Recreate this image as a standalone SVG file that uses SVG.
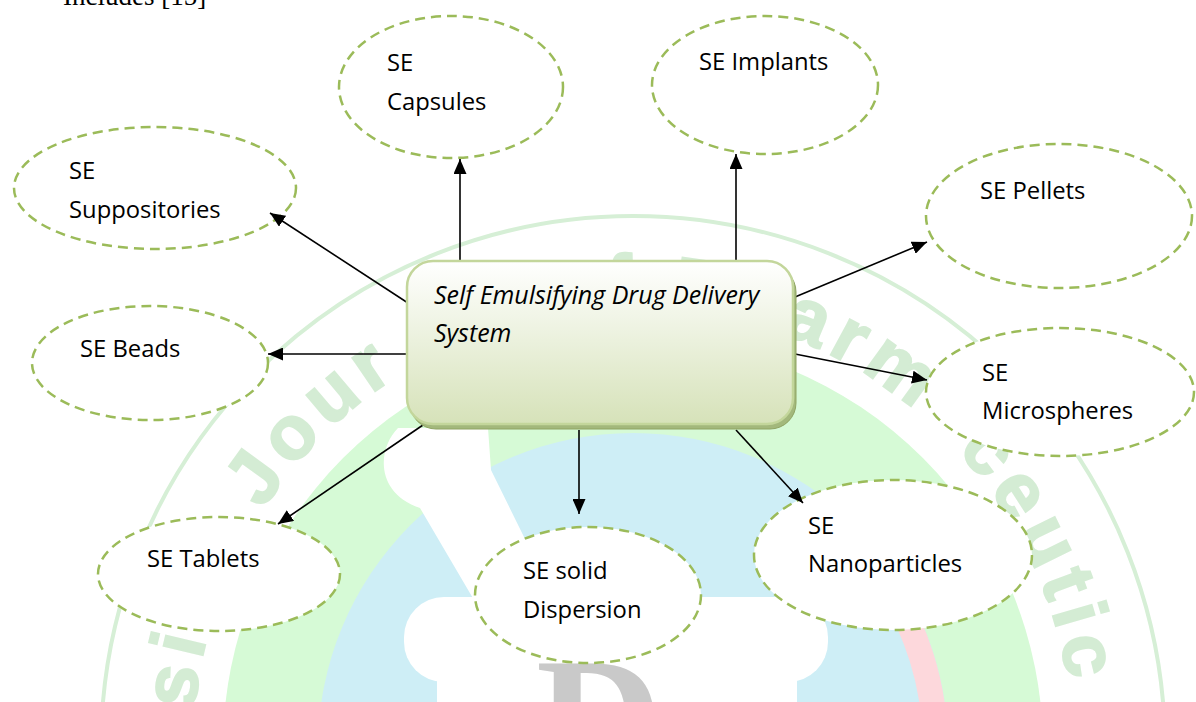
<svg xmlns="http://www.w3.org/2000/svg" width="1196" height="702" viewBox="0 0 1196 702">
<defs>
<style>
.node{fill:#ffffff;stroke:#9bbb59;stroke-width:2.5;stroke-dasharray:10 6}
.lbl{font-family:"Open Sans","Noto Sans","Liberation Sans",sans-serif;font-size:23.8px;fill:#000}
.title{font-family:"Open Sans","Noto Sans","Liberation Sans",sans-serif;font-size:25px;font-style:italic;fill:#000}
.wm{font-family:"Liberation Sans",Arial,sans-serif;font-weight:bold;font-size:76px;letter-spacing:8px;fill:#d4ecd4;stroke:#d4ecd4;stroke-width:2}
.conn{stroke:#000;stroke-width:1.6;fill:none;marker-end:url(#ah)}
</style>
<linearGradient id="boxg" x1="0" y1="0" x2="0" y2="1">
<stop offset="0" stop-color="#ffffff"/>
<stop offset="1" stop-color="#d6e2b9"/>
</linearGradient>
<marker id="ah" markerWidth="15" markerHeight="13" refX="15" refY="6.5" orient="auto" markerUnits="userSpaceOnUse">
<path d="M0,0 L15,6.5 L0,13 Z" fill="#000"/>
</marker>
<path id="wmpath" d="M 199.7 824.4 A 440 440 0 1 1 1066.3 824.4"/>
</defs>

<g id="watermark">
<circle cx="633" cy="748" r="410" fill="#d6fad6"/>
<circle cx="633" cy="748" r="315" fill="#ceeef6"/>
<path d="M 855.7 525.3 A 315 315 0 0 1 943.2 802.7 L 918.6 798.4 A 290 290 0 0 0 838.1 543.0 Z" fill="#fdd8dc"/>
<path d="M 398 428 C 378 448 374 492 420 508 L 474 600 L 545 600 L 524 537 L 491 470 L 488 428 Z" fill="#ffffff"/>
<rect x="404" y="597" width="424" height="85" rx="40" fill="#ffffff"/>
<rect x="437" y="670" width="360" height="40" fill="#ffffff"/>
<text x="536" y="779" font-family="Liberation Serif,serif" font-weight="bold" font-size="175" fill="#c9c9c9">D</text>
<text class="wm"><textPath href="#wmpath" startOffset="114.9">si</textPath></text>
<text class="wm"><textPath href="#wmpath" startOffset="328.1">Jour</textPath></text>
<text class="wm"><textPath href="#wmpath" startOffset="742.1">f</textPath></text>
<text class="wm"><textPath href="#wmpath" startOffset="804.5">P</textPath></text>
<text class="wm"><textPath href="#wmpath" startOffset="917.6">arm</textPath></text>
<text class="wm"><textPath href="#wmpath" startOffset="1131.4">c</textPath></text>
<text class="wm"><textPath href="#wmpath" startOffset="1181.7">eutic</textPath></text>
<circle cx="633" cy="748" r="532" fill="none" stroke="#d6efd6" stroke-width="4"/>
</g>

<text x="63" y="5" font-family="Liberation Serif,serif" font-size="27" fill="#000">Includes [15]</text>

<g id="node-capsules">
<ellipse class="node" cx="451" cy="87" rx="112" ry="71"/>
<text class="lbl" x="387" y="71">SE</text>
<text class="lbl" x="387" y="110">Capsules</text>
</g>
<g id="node-implants">
<ellipse class="node" cx="765" cy="85" rx="113" ry="69"/>
<text class="lbl" x="699" y="70">SE Implants</text>
</g>
<g id="node-suppositories">
<ellipse class="node" cx="155" cy="188" rx="141" ry="61"/>
<text class="lbl" x="69" y="179">SE</text>
<text class="lbl" x="69" y="218">Suppositories</text>
</g>
<g id="node-beads">
<ellipse class="node" cx="150" cy="363" rx="118" ry="57"/>
<text class="lbl" x="80" y="357">SE Beads</text>
</g>
<g id="node-pellets">
<ellipse class="node" cx="1059" cy="216" rx="133" ry="72"/>
<text class="lbl" x="980" y="199">SE Pellets</text>
</g>
<g id="node-microspheres">
<ellipse class="node" cx="1060" cy="392" rx="134" ry="64"/>
<text class="lbl" x="982" y="381">SE</text>
<text class="lbl" x="982" y="419">Microspheres</text>
</g>
<g id="node-tablets">
<ellipse class="node" cx="219" cy="574" rx="121" ry="57"/>
<text class="lbl" x="147" y="567">SE Tablets</text>
</g>
<g id="node-dispersion">
<ellipse class="node" cx="588" cy="595" rx="113" ry="68"/>
<text class="lbl" x="523" y="579">SE solid</text>
<text class="lbl" x="523" y="618">Dispersion</text>
</g>
<g id="node-nanoparticles">
<ellipse class="node" cx="893" cy="555" rx="139" ry="75"/>
<text class="lbl" x="808" y="534">SE</text>
<text class="lbl" x="808" y="572">Nanoparticles</text>
</g>

<g id="connectors">
<line class="conn" x1="460" y1="260" x2="460" y2="159"/>
<line class="conn" x1="736" y1="260" x2="736" y2="154"/>
<line class="conn" x1="408" y1="303" x2="270" y2="213"/>
<line class="conn" x1="408" y1="354" x2="268" y2="354"/>
<line class="conn" x1="795" y1="297" x2="927" y2="242"/>
<line class="conn" x1="795" y1="354" x2="927" y2="380"/>
<line class="conn" x1="423" y1="425" x2="278" y2="524"/>
<line class="conn" x1="579" y1="430" x2="579" y2="514"/>
<line class="conn" x1="736" y1="430" x2="803" y2="503"/>
</g>

<g id="node-sedds">
<rect x="410" y="266" width="386" height="163" rx="26" fill="#a3b87c" stroke="#8fa463" stroke-width="1"/>
<rect x="407" y="261" width="386" height="163" rx="26" fill="url(#boxg)" stroke="#c3d69b" stroke-width="2.5"/>
<text class="title" x="434" y="304">Self Emulsifying Drug Delivery</text>
<text class="title" x="434" y="342">System</text>
</g>
</svg>
